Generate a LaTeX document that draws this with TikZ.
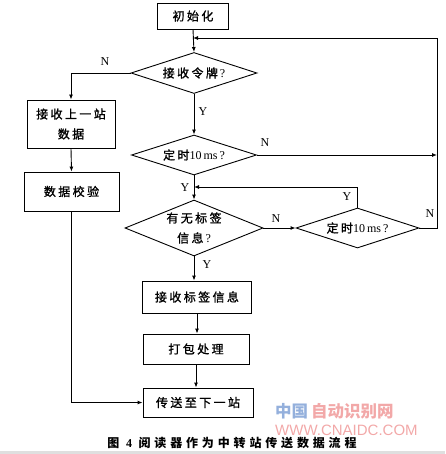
\documentclass[tikz,border=0pt]{standalone}
\usepackage{fontspec}
\setmainfont{Liberation Serif}
\newfontfamily\cjk[LetterSpace=20,FakeBold=1.2]{Noto Sans CJK SC}
\newfontfamily\cjkcap[LetterSpace=32]{Noto Sans CJK SC}
\newfontfamily\wmfont{Noto Sans CJK SC}
\newfontfamily\wmlat{Liberation Sans}
\usetikzlibrary{shapes.geometric,arrows.meta}
\newcommand\cjkf{\fontsize{12}{20}\selectfont\cjk}
\newcommand\labf{\fontsize{12}{12}\selectfont}
\definecolor{wmblue}{HTML}{94B0DC}
\definecolor{wmred}{HTML}{F2A8A8}
\tikzset{
  ln/.style={line width=0.9pt},
  arr/.style={ln, -{Latex[length=5pt,width=4pt]}},
  box/.style={draw, line width=0.9pt, inner sep=0pt, font=\cjkf, align=center},
  dia/.style={draw, diamond, line width=0.9pt, inner sep=0pt, font=\cjkf, align=center},
  lab/.style={font=\labf, inner sep=0pt},
}
\begin{document}
\begin{tikzpicture}[x=1pt,y=-1pt]
\useasboundingbox (0,0) rectangle (445,454);
\fill[gray!25] (0,451) rectangle (445,454);
% boxes
\node[box, minimum width=71pt, minimum height=26pt] (init) at (193,16) {初始化};
\node[box, minimum width=88pt, minimum height=48pt] (recv) at (71,124) {接收上一站\\数据};
\node[box, minimum width=95pt, minimum height=39pt] (check) at (71.5,191.5) {数据校验};
\node[box, minimum width=109pt, minimum height=32pt] (tag) at (197,297) {接收标签信息};
\node[box, minimum width=106pt, minimum height=30pt] (pack) at (196,349) {打包处理};
\node[box, minimum width=110pt, minimum height=29pt] (send) at (198,402.5) {传送至下一站};
% diamonds
\node[dia, aspect=3, minimum width=126pt, minimum height=41pt] (d1) at (194,73) {接收令牌{\rmfamily\,?}};
\node[dia, aspect=3, minimum width=125pt, minimum height=40pt] (d2) at (194,155) {定时{\rmfamily 10\,ms\,?}};
\node[dia, aspect=2.5, minimum width=138pt, minimum height=56pt] (d3) at (194,228) {有无标签\\信息{\rmfamily\,?}};
\node[dia, aspect=3, minimum width=123pt, minimum height=40pt] (d4) at (357.5,228) {定时{\rmfamily 10\,ms\,?}};
% helper coordinates
\coordinate (rt) at (437,38);
\coordinate (rm) at (437,155);
\coordinate (ym) at (194,187);
% connectors
\draw[arr] (init.south) -- (d1.north);
\draw[arr] (d4.east) -| (rt) -- (init.south |- rt);
\draw[arr] (d1.west) -| (recv.north);
\draw[arr] (recv.south) -- (check.north);
\draw[arr] (check.south) |- (send.west);
\draw[arr] (d1.south) -- (d2.north);
\draw[arr] (d2.east) -- (rm);
\draw[arr] (d2.south) -- (d3.north);
\draw[arr] (d4.north) |- (ym);
\draw[arr] (d3.east) -- (d4.west);
\draw[arr] (d3.south) -- (d3.south |- tag.north);
\draw[arr] (tag.south) -- (tag.south |- pack.north);
\draw[arr] (pack.south) -- (pack.south |- send.north);
% labels
\node[lab] (n1) at (105,62) {N};
\node[lab] (y1) at (203,112) {Y};
\node[lab] (n2) at (265,143) {N};
\node[lab] (y2) at (185,188) {Y};
\node[lab] (n3) at (276,219) {N};
\node[lab] (y3) at (347,197) {Y};
\node[lab] (n4) at (430,214) {N};
\node[lab] (y4) at (207,265) {Y};
% watermark
\node[inner sep=0pt, anchor=west, font=\fontsize{16.5}{17}\selectfont\wmfont\bfseries] (wm1) at (275,411)
  {\textcolor{wmblue}{中国}\hspace{3pt}\textcolor{wmred}{自动识别网}};
\node[inner sep=0pt, anchor=west, font=\fontsize{15}{15}\selectfont\wmlat, text=wmred] (wm2) at (275,430) {WWW.CNAIDC.COM};
% caption
\node[inner sep=0pt, font=\fontsize{12}{12}\selectfont\cjkcap\bfseries] (cap) at (232,443) {图 {\rmfamily\bfseries 4} 阅读器作为中转站传送数据流程};
\end{tikzpicture}
\end{document}
